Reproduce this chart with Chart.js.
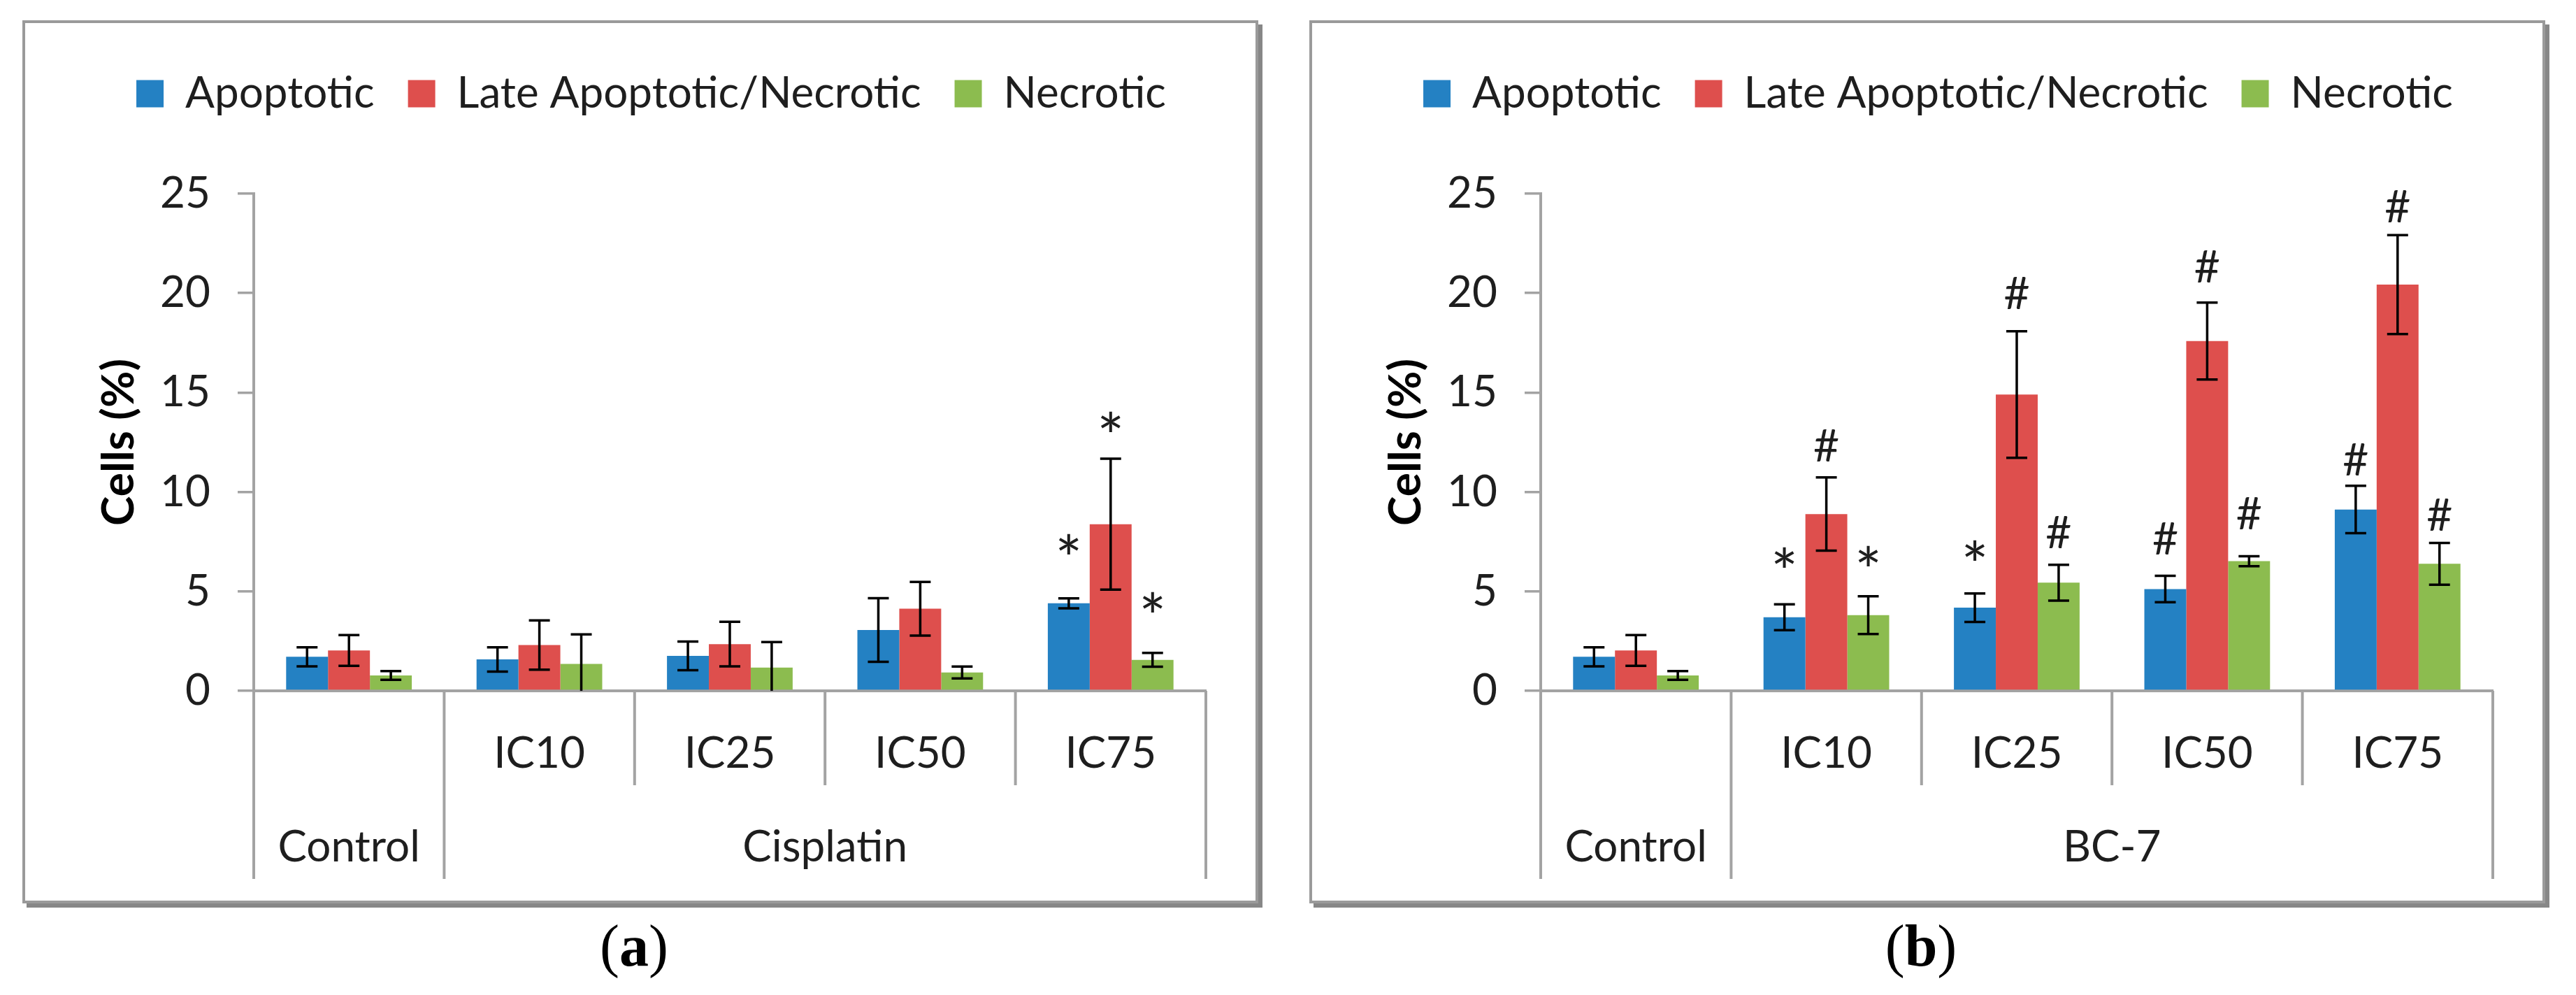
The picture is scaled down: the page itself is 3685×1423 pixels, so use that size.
<!DOCTYPE html>
<html>
<head>
<meta charset="utf-8">
<script src="https://cdn.jsdelivr.net/npm/chart.js@4.4.1/dist/chart.umd.min.js"></script>
<style>
  html, body { margin: 0; padding: 0; background: #fff; }
  body { width: 3685px; height: 1423px; position: relative; overflow: hidden; }
  .panel {
    position: absolute; top: 29px; width: 1760px; height: 1255px;
    border: 4px solid #9a9a9a; box-shadow: 6px 6px 0 #878787; background: #fff;
  }
  .panel canvas { display: block; }
  .tag {
    position: absolute; top: 1311px; width: 200px; text-align: center;
    font-family: 'Liberation Serif', 'Times New Roman', serif; font-size: 84px;
    line-height: 1; color: #000;
  }
</style>
</head>
<body>
<div class="panel" style="left:32px"><canvas id="chart-a" width="1760" height="1255"></canvas></div>
<div class="panel" style="left:1873px"><canvas id="chart-b" width="1760" height="1255"></canvas></div>
<div class="tag" style="left:807px">(<b>a</b>)</div>
<div class="tag" style="left:2648px">(<b>b</b>)</div>

<script>
(function () {
  'use strict';

  // categories and axis
  var categories = ['Control', 'IC10', 'IC25', 'IC50', 'IC75'];
  var subLabels = ['', 'IC10', 'IC25', 'IC50', 'IC75'];
  var groupSpans = [[0, 0], [1, 4]];
  var groupsA = ['Control', 'Cisplatin'];
  var groupsB = ['Control', 'BC-7'];
  var seriesNames = ['Apoptotic', 'Late Apoptotic/Necrotic', 'Necrotic'];
  var yTicks = [0, 5, 10, 15, 20, 25];

  // panel (a) - cisplatin
  var apoA = [1.71, 1.58, 1.76, 3.06, 4.40];
  var apoErrA = [0.48, 0.61, 0.72, 1.60, 0.25];
  var lateA = [2.03, 2.30, 2.35, 4.13, 8.38];
  var lateErrA = [0.77, 1.24, 1.12, 1.35, 3.29];
  var necA = [0.77, 1.35, 1.17, 0.92, 1.56];
  var necErrA = [0.22, 1.49, 1.28, 0.30, 0.35];
  var apoMarkA = ['', '', '', '', '*'];
  var apoMarkAtA = [0, 0, 0, 0, 7.39];
  var lateMarkA = ['', '', '', '', '*'];
  var lateMarkAtA = [0, 0, 0, 0, 13.52];
  var necMarkA = ['', '', '', '', '*'];
  var necMarkAtA = [0, 0, 0, 0, 4.47];

  // panel (b) - BC-7
  var apoB = [1.71, 3.70, 4.18, 5.12, 9.12];
  var apoErrB = [0.48, 0.65, 0.72, 0.66, 1.19];
  var lateB = [2.03, 8.89, 14.90, 17.59, 20.43];
  var lateErrB = [0.77, 1.84, 3.18, 1.93, 2.49];
  var necB = [0.77, 3.81, 5.44, 6.52, 6.39];
  var necErrB = [0.22, 0.95, 0.90, 0.25, 1.05];
  var apoMarkB = ['', '*', '*', '#', '#'];
  var apoMarkAtB = [0, 6.70, 7.06, 7.65, 11.63];
  var lateMarkB = ['', '#', '#', '#', '#'];
  var lateMarkAtB = [0, 12.35, 20.0, 21.33, 24.37];
  var necMarkB = ['', '*', '#', '#', '#'];
  var necMarkAtB = [0, 6.79, 7.99, 8.94, 8.87];

  var colors = {
    blue: '#2481c3',
    red: '#de4f4d',
    green: '#8cbc4f',
    axis: '#a3a3a3',
    text: '#1e1e1e',
  };
  var FONT = 'Lato, "Open Sans", sans-serif';

  // room between the legend row and the plot
  var legendGap = {
    id: 'legendGap',
    beforeInit: function (chart) {
      var fit = chart.legend.fit;
      chart.legend.fit = function () {
        fit.call(this);
        this.height += 102;
      };
    },
  };

  var decor = {
    id: 'decor',
    afterDatasetsDraw: function (chart) {
      var ctx = chart.ctx;
      var area = chart.chartArea;
      var y = chart.scales.y;
      ctx.save();
      ctx.beginPath();
      ctx.rect(0, 0, chart.width, area.bottom);
      ctx.clip();
      ctx.strokeStyle = '#000';
      ctx.lineWidth = 3.5;
      chart.data.datasets.forEach(function (ds, di) {
        var meta = chart.getDatasetMeta(di);
        meta.data.forEach(function (bar, i) {
          var v = ds.data[i];
          var e = ds.errors[i];
          var top = y.getPixelForValue(v + e);
          var bot = y.getPixelForValue(v - e);
          ctx.beginPath();
          ctx.moveTo(bar.x, top);
          ctx.lineTo(bar.x, bot);
          ctx.moveTo(bar.x - 15, top);
          ctx.lineTo(bar.x + 15, top);
          ctx.moveTo(bar.x - 15, bot);
          ctx.lineTo(bar.x + 15, bot);
          ctx.stroke();
        });
      });
      ctx.restore();

      ctx.save();
      ctx.fillStyle = colors.text;
      ctx.textAlign = 'center';
      ctx.textBaseline = 'alphabetic';
      chart.data.datasets.forEach(function (ds, di) {
        var meta = chart.getDatasetMeta(di);
        meta.data.forEach(function (bar, i) {
          var t = ds.marks[i];
          if (!t) return;
          ctx.font = (t === '*' ? '92px ' : '64px ') + FONT;
          var m = ctx.measureText(t);
          var cy = y.getPixelForValue(ds.markAt[i]);
          ctx.fillText(t, bar.x, cy + (m.actualBoundingBoxAscent - m.actualBoundingBoxDescent) / 2);
        });
      });
      ctx.restore();
    },
    afterDraw: function (chart, args, opts) {
      var ctx = chart.ctx;
      var area = chart.chartArea;
      var x = chart.scales.x;
      var step = x.getPixelForValue(1) - x.getPixelForValue(0);
      var base = area.bottom;
      ctx.save();
      ctx.strokeStyle = colors.axis;
      ctx.lineWidth = 4;
      for (var b = 0; b <= categories.length; b++) {
        var px = area.left + b * step;
        var edge = groupSpans.some(function (s) { return s[0] === b || s[1] + 1 === b; });
        ctx.beginPath();
        ctx.moveTo(px, base);
        ctx.lineTo(px, base + (edge ? 269 : 135));
        ctx.stroke();
      }
      ctx.fillStyle = colors.text;
      ctx.font = '62px ' + FONT;
      ctx.textAlign = 'center';
      ctx.textBaseline = 'alphabetic';
      subLabels.forEach(function (lab, i) {
        if (lab) ctx.fillText(lab, x.getPixelForValue(i), base + 110);
      });
      opts.groups.forEach(function (lab, g) {
        var s = groupSpans[g];
        var cx = (x.getPixelForValue(s[0]) + x.getPixelForValue(s[1])) / 2;
        ctx.fillText(lab, cx, base + 244);
      });
      ctx.restore();
    },
  };

  function series(label, color, data, errors, marks, markAt) {
    return {
      label: label,
      data: data,
      errors: errors,
      marks: marks,
      markAt: markAt,
      backgroundColor: color,
      borderWidth: 0,
      categoryPercentage: 0.66,
      barPercentage: 1.0,
    };
  }

  function makeChart(id, datasets, groups) {
    return new Chart(document.getElementById(id), {
      type: 'bar',
      data: { labels: categories, datasets: datasets },
      plugins: [legendGap, decor],
      options: {
        responsive: false,
        devicePixelRatio: 1,
        animation: false,
        layout: { padding: { left: 102, right: 71, top: 22, bottom: 0 } },
        plugins: {
          decor: { groups: groups },
          tooltip: { enabled: false },
          legend: {
            position: 'top',
            labels: {
              font: { family: FONT, size: 62 },
              color: colors.text,
              boxWidth: 39,
              boxHeight: 39,
              padding: 48,
            },
          },
        },
        scales: {
          x: {
            grid: { display: false },
            ticks: { display: false },
            border: { display: true, color: colors.axis, width: 4 },
            afterFit: function (scale) { scale.height = 300; },
          },
          y: {
            min: yTicks[0],
            max: yTicks[yTicks.length - 1],
            afterBuildTicks: function (scale) {
              scale.ticks = yTicks.map(function (v) { return { value: v }; });
            },
            ticks: {
              font: { family: FONT, size: 62 },
              color: colors.text,
              padding: 39,
            },
            grid: {
              drawOnChartArea: false,
              drawTicks: true,
              tickLength: 23,
              color: colors.axis,
              lineWidth: 3.5,
            },
            border: { display: true, color: colors.axis, width: 4 },
            title: {
              display: true,
              text: 'Cells (%)',
              color: '#000',
              font: { family: FONT, size: 64, weight: 'bold', lineHeight: 1 },
              padding: { top: 0, bottom: 0 },
            },
            afterFit: function (scale) { scale.width = 225; },
          },
        },
      },
    });
  }

  function init() {
    makeChart('chart-a', [
      series(seriesNames[0], colors.blue, apoA, apoErrA, apoMarkA, apoMarkAtA),
      series(seriesNames[1], colors.red, lateA, lateErrA, lateMarkA, lateMarkAtA),
      series(seriesNames[2], colors.green, necA, necErrA, necMarkA, necMarkAtA),
    ], groupsA);
    makeChart('chart-b', [
      series(seriesNames[0], colors.blue, apoB, apoErrB, apoMarkB, apoMarkAtB),
      series(seriesNames[1], colors.red, lateB, lateErrB, lateMarkB, lateMarkAtB),
      series(seriesNames[2], colors.green, necB, necErrB, necMarkB, necMarkAtB),
    ], groupsB);
  }

  if (document.fonts && document.fonts.load) {
    Promise.all([
      document.fonts.load('62px Lato'),
      document.fonts.load('bold 64px Lato'),
    ]).then(init, init);
  } else {
    init();
  }
})();
</script>
</body>
</html>
